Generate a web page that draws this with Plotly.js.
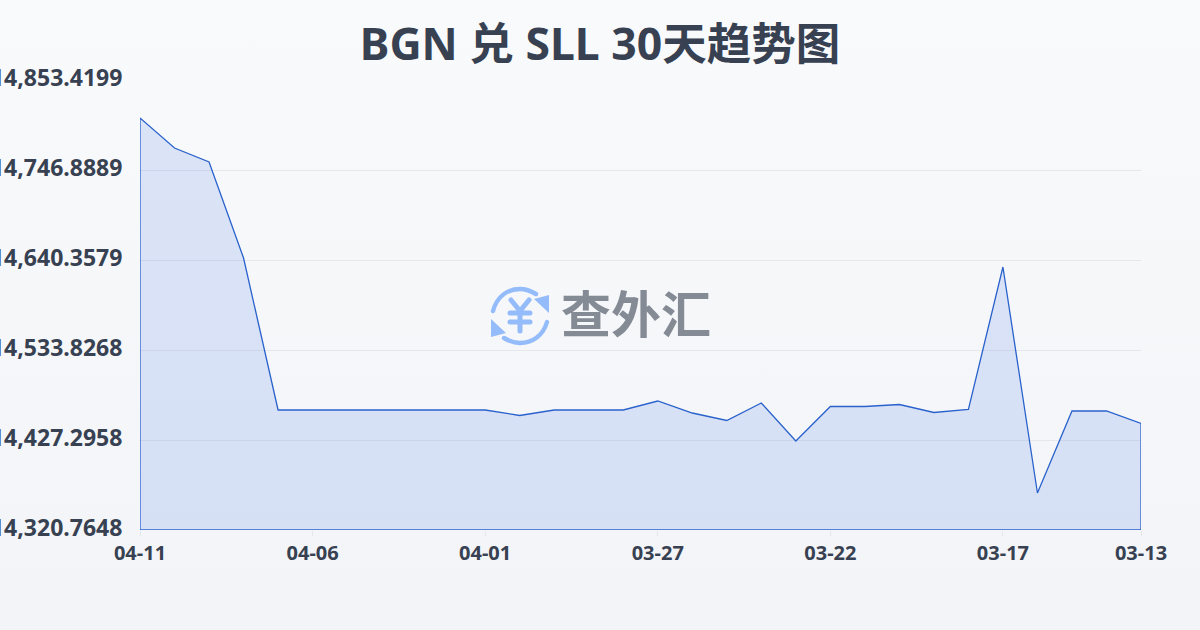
<!DOCTYPE html>
<html>
<head>
<meta charset="utf-8">
<script src="https://cdn.plot.ly/plotly-3.0.1.min.js"></script>
<style>
html,body{margin:0;padding:0;width:1200px;height:630px;overflow:hidden;background:linear-gradient(180deg,#f9fafc 0%,#f2f4f7 100%);}
#chart{width:1200px;height:630px;}
</style>
</head>
<body>
<div id="chart"></div>
<script>
const titleText = 'BGN 兑 SLL 30天趋势图';
const watermarkText = '查外汇';
const dates = ['04-11','04-10','04-09','04-08','04-07','04-06','04-05','04-04','04-03','04-02','04-01',
  '03-31','03-30','03-29','03-28','03-27','03-26','03-25','03-24','03-23','03-22','03-21','03-20','03-19','03-18',
  '03-17','03-16','03-15','03-14','03-13'];
const rates = [14808.44,14772.93,14756.36,14642.72,14462.81,14462.81,14462.81,14462.81,14462.81,14462.81,14462.81,
  14456.30,14462.81,14462.81,14462.81,14473.46,14459.25,14450.38,14471.09,14426.11,14466.95,14466.95,14469.32,14459.85,14463.40,
  14632.07,14364.56,14461.62,14461.62,14446.83];
const yTicks = [14320.7648,14427.2958,14533.8268,14640.3579,14746.8889,14853.4199];
const xTicks = ['04-11','04-06','04-01','03-27','03-22','03-17','03-13'];

const fontUI = '"Noto Sans","Noto Sans CJK SC",sans-serif';
const logo = 'data:image/svg+xml;utf8,' + encodeURIComponent(
 '<svg xmlns="http://www.w3.org/2000/svg" viewBox="0 0 60 60" width="60" height="60">'+
 '<g fill="none" stroke="#94bbfa" stroke-width="4.4" stroke-linecap="round" stroke-linejoin="round">'+
 '<path d="M3 25 C7 10 18 3 30 3 C36 3 41 5 46 8"/>'+
 '<path d="M57 36 C53 50 42 57 30 57 C24 57 19 55 14 52"/>'+
 '<path d="M21 14 L30 25 L39 14 M30 25 L30 45 M20 27 L40 27 M20 36 L40 36" stroke-width="5"/>'+
 '</g>'+
 '<path d="M44 13 L59 9 L59 27 Z M16 47 L1 51 L1 33 Z" fill="#94bbfa"/>'+
 '</svg>');

Plotly.newPlot('chart', [{
  type:'scatter', mode:'lines',
  x: dates.concat([dates[dates.length-1], dates[0], dates[0]]),
  y: rates.concat([yTicks[0], yTicks[0], rates[0]]),
  fill:'toself',
  fillcolor:'rgba(55,105,228,0.15)',
  line:{color:'#2a62cc',width:1.3,shape:'linear'},
  hoverinfo:'skip'
}], {
  width:1200,height:630,
  paper_bgcolor:'rgba(0,0,0,0)',plot_bgcolor:'rgba(0,0,0,0)',
  showlegend:false,
  margin:{l:140,r:59,t:80,b:100},
  title:{text:titleText,x:0.5,xanchor:'center',y:0.929,yanchor:'middle',
    font:{family:fontUI,size:44.5,color:'#374151',weight:700}},
  xaxis:{type:'category',categoryorder:'array',categoryarray:dates,range:[0,29],
    tickmode:'array',tickvals:xTicks,ticktext:xTicks,
    ticks:'outside',ticklen:5,tickwidth:1,tickcolor:'#e5e7eb',
    showgrid:false,zeroline:false,showline:false,
    tickfont:{family:fontUI,size:20,color:'#374151',weight:700}},
  yaxis:{range:[yTicks[0],yTicks[5]],tickmode:'array',tickvals:yTicks,
    ticktext:yTicks.map(v=>v.toLocaleString('en-US',{minimumFractionDigits:4,maximumFractionDigits:4})),
    ticks:'outside',ticklen:12,tickcolor:'rgba(0,0,0,0)',ticklabelshift:-2,
    showgrid:true,gridcolor:'#e5e7eb',gridwidth:1,zeroline:false,showline:false,
    tickfont:{family:fontUI,size:23,color:'#374151',weight:700}},
  images:[{source:logo,xref:'paper',yref:'paper',x:(490-140)/1001,y:(530-286)/450,sizex:60/1001,sizey:60/450,
    xanchor:'left',yanchor:'top',sizing:'stretch',layer:'above'}],
  annotations:[{text:watermarkText,xref:'paper',yref:'paper',x:(636-140)/1001,y:(530-311)/450,
    xanchor:'center',yanchor:'middle',showarrow:false,
    font:{family:'"Noto Sans CJK SC",sans-serif',size:50,color:'#858b95',weight:700}}]
},{staticPlot:true,displayModeBar:false});
</script>
</body>
</html>
